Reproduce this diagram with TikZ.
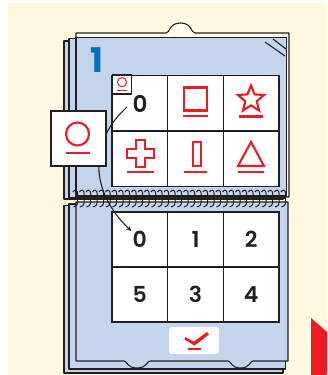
\documentclass[tikz,border=0pt]{standalone}
\usepackage{fontspec}
\newfontfamily\digitfont{Poppins}[UprightFont=* SemiBold, BoldFont=* Bold]
\usetikzlibrary{arrows.meta}
\definecolor{cream}{HTML}{FFF9E1}
\definecolor{paper}{HTML}{FFFCEE}
\definecolor{sheet}{HTML}{C4D4EC}
\definecolor{redc}{HTML}{EC1C24}
\definecolor{bluec}{HTML}{0072BC}
\definecolor{ink}{HTML}{231F20}
\begin{document}
\begin{tikzpicture}[x=1pt,y=-1pt,
  edge/.style={draw=ink,line width=1.1pt,line join=round},
  sheetfill/.style={edge,fill=sheet},
  cell/.style={draw=ink,line width=1.2pt,fill=white,minimum width=55.67pt,inner sep=0pt,
     font=\digitfont\fontsize{22}{22}\selectfont,text=ink},
  upcell/.style={cell,minimum height=55.5pt},
  lowcell/.style={cell,minimum height=55pt},
  redline/.style={draw=redc,line width=2.1pt,line join=miter},
  coil/.style={draw=ink,line width=1pt},
  conn/.style={draw=ink,line width=1.1pt,-{Stealth[length=5pt,width=4.5pt]}}
]
\clip (0,0) rectangle (327,375);
\fill[white] (0,0) rectangle (327,375);
\fill[cream] (8,3) rectangle (327,375);

% ---------- upper half of the flip book ----------
\path[sheetfill] (64,41) rectangle (283,199);
\path[sheetfill] (69,38.5) rectangle (285,198);
\path[edge,fill=paper] (76,33) -- (166,33) .. controls (170,33) and (169,23) .. (180.5,23)
   .. controls (192,23) and (191,33) .. (195,33) -- (289,33) -- (289,197) -- (76,197) -- cycle;
\path[sheetfill] (76,37.5) rectangle (286.5,196);
\draw[edge] (265,42) -- (285,56);
\draw[edge] (273,39) -- (286,49);

% ---------- lower half ----------
\path[sheetfill] (64,205.5) rectangle (283,373);
\path[sheetfill] (69,204) rectangle (285.5,369);
\path[sheetfill] (76,202) -- (288,202) -- (288,361) -- (253,361)
   .. controls (250,361) and (250,368) .. (240.5,368) .. controls (231,368) and (231,361) .. (228,361)
   -- (150,361) .. controls (147,361) and (147,368) .. (137,368) .. controls (127,368) and (127,361) .. (124,361)
   -- (76,361) -- cycle;

% ---------- spiral binding ----------
\foreach \i in {0,...,32}{
  \pgfmathsetmacro\xx{75.5+6.5*\i}
  \draw[coil] (\xx-2.5,192) .. controls (\xx-1,189) and (\xx+2.2,189.5) .. (\xx+2.2,194)
     -- (\xx+2.2,201) .. controls (\xx+2.2,205) and (\xx+0.5,207) .. (\xx-2,207);
}

% ---------- page number ----------
\node[font=\digitfont\bfseries\fontsize{34}{34}\selectfont,text=bluec,inner sep=0pt] (pagenum) at (97,60.5) {1};

% ---------- upper grid ----------
\node[upcell] (u11) at (139.83,103.25) {};
\node[upcell] (u12) at (195.5,103.25) {};
\node[upcell] (u13) at (251.17,103.25) {};
\node[upcell] (u21) at (139.83,158.75) {};
\node[upcell] (u22) at (195.5,158.75) {};
\node[upcell] (u23) at (251.17,158.75) {};

% small key in first cell
\node[draw=ink,line width=1.1pt,fill=white,minimum size=19pt,inner sep=0pt] (key) at (122,84.5) {};
\draw[draw=redc,line width=1pt] (key.center) ++(0,-2.3) circle[radius=4.6pt];
\draw[draw=redc,line width=1pt] (117.2,90.5) -- (126.8,90.5);
\node[font=\digitfont\fontsize{23}{23}\selectfont,text=ink,inner sep=0pt] (otop) at (140,103.5) {0};

% red symbols
\draw[redline] (184,87.5) rectangle (207,110.5);
\draw[redline] (183,116) -- (208,116);
\draw[redline] (251,85.5) -- (254.6,94.4) -- (264.1,95) -- (256.7,101.2) -- (259.1,110.5)
   -- (251,105.4) -- (242.9,110.5) -- (245.3,101.2) -- (237.9,95) -- (247.4,94.4) -- cycle;
\draw[redline] (239,116.5) -- (263,116.5);
\draw[redline] (136,140) -- (145,140) -- (145,149) -- (154,149) -- (154,158) -- (145,158)
   -- (145,167) -- (136,167) -- (136,158) -- (127,158) -- (127,149) -- (136,149) -- cycle;
\draw[redline] (127,172) -- (154,172);
\draw[redline] (193,142) rectangle (201,166);
\draw[redline] (184,172) -- (207,172);
\draw[redline] (251,142) -- (264,166) -- (238,166) -- cycle;
\draw[redline] (238,172) -- (264,172);

% ---------- lower grid ----------
\node[lowcell] (b11) at (139.83,239.5) {0};
\node[lowcell] (b12) at (195.5,239.5) {1};
\node[lowcell] (b13) at (251.17,239.5) {2};
\node[lowcell] (b21) at (139.83,294.5) {5};
\node[lowcell] (b22) at (195.5,294.5) {3};
\node[lowcell] (b23) at (251.17,294.5) {4};

% ---------- connector ----------
\draw[conn] ([shift={(-13,3.5)}]otop.center) .. controls (90,140) and (88,190) .. ([shift={(-8.5,-8.5)}]b11.center);

% ---------- callout ----------
\node[draw=ink,line width=1.2pt,fill=white,minimum size=55pt,inner sep=0pt] (callout) at (78.5,138.5) {};
\draw[draw=redc,line width=2.1pt] (77.5,134) circle[radius=11.5pt];
\draw[redline] (66,153) -- (90,153);

% ---------- check button ----------
\node[fill=white,rounded corners=3pt,minimum width=50pt,minimum height=27pt,inner sep=0pt] (okbtn) at (194,340.5) {};
\fill[redc] (185,337) -- (194,341.5) -- (207,332) -- (209,334.5) -- (194.5,345.5) -- (184.5,339.5) -- cycle;
\draw[draw=redc,line width=1.6pt] (187.5,349) -- (201,349);

% ---------- next arrow ----------
\fill[redc] (311,318) -- (351,353) -- (311,388) -- cycle;
\end{tikzpicture}
\end{document}
